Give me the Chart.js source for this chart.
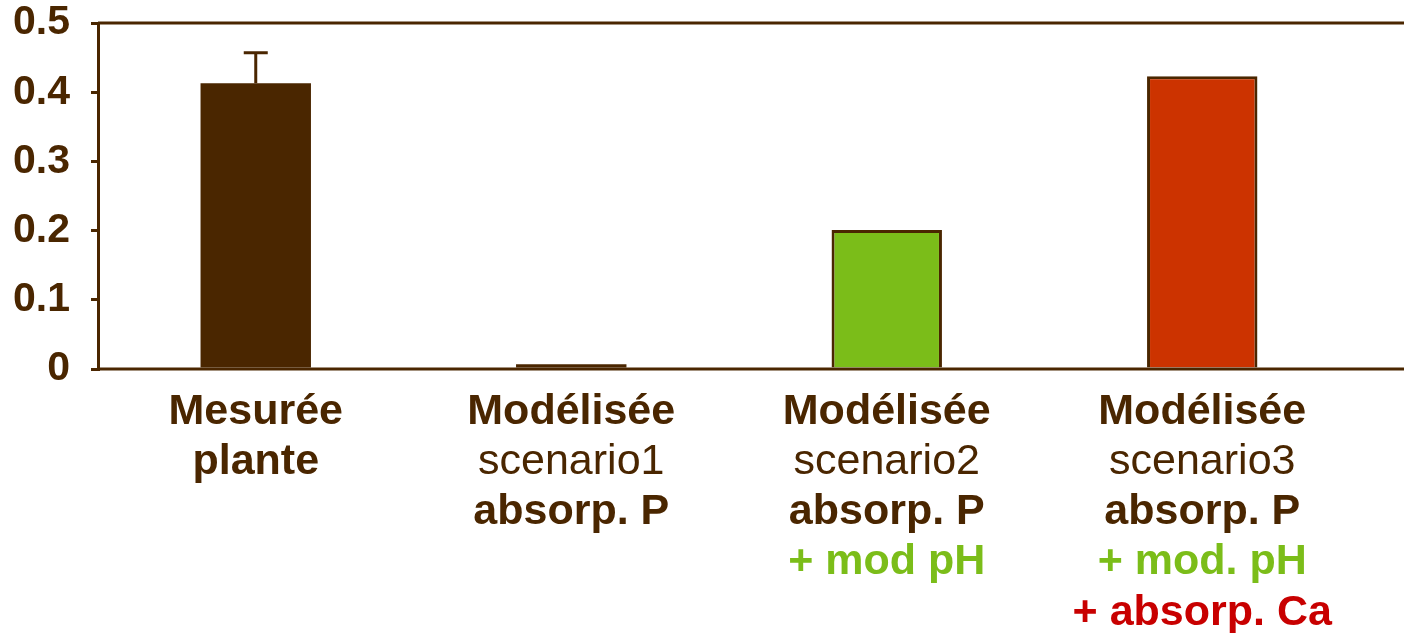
<!DOCTYPE html>
<html>
<head>
<meta charset="utf-8">
<script src="https://cdn.jsdelivr.net/npm/chart.js@4"></script>
<style>
  html, body { margin: 0; padding: 0; background: #fff; }
  #wrap { width: 1404px; height: 633px; }
</style>
</head>
<body>
<div id="wrap"><canvas id="chart" width="1404" height="633"></canvas></div>
<script>
// Data
const categories = ['Mesurée plante', 'Modélisée scenario1', 'Modélisée scenario2', 'Modélisée scenario3'];
const values = [0.413, 0.007, 0.201, 0.423];
const errorsUp = [0.044, 0, 0, 0];
const yTickLabels = ['0', '0.1', '0.2', '0.3', '0.4', '0.5'];
const xLabelLines = [
    ['Mesurée', 'plante'],
    ['Modélisée', 'scenario1', 'absorp. P'],
    ['Modélisée', 'scenario2', 'absorp. P', '+ mod pH'],
    ['Modélisée', 'scenario3', 'absorp. P', '+ mod. pH', '+ absorp. Ca']
];

const BROWN = '#4a2600';
const GREEN = '#7bbd19';
const RED = '#c80000';
const FONT = "'Liberation Sans', Arial, sans-serif";

// style of a label line, picked from its text
function lineStyle(text) {
    if (text.startsWith('scenario')) return { weight: 'normal', color: BROWN };
    if (text.indexOf('pH') >= 0) return { weight: 'bold', color: GREEN };
    if (text.indexOf('Ca') >= 0) return { weight: 'bold', color: RED };
    return { weight: 'bold', color: BROWN };
}

const extrasPlugin = {
    id: 'extras',
    afterDatasetsDraw(chart) {
        const ctx = chart.ctx;
        const x = chart.scales.x, y = chart.scales.y;
        const area = chart.chartArea;
        ctx.save();
        ctx.strokeStyle = BROWN;
        ctx.lineWidth = 3;
        // frame top and baseline, running to the right edge
        [0.5, 0].forEach(v => {
            const py = y.getPixelForValue(v);
            ctx.beginPath();
            ctx.moveTo(area.left, py);
            ctx.lineTo(chart.width, py);
            ctx.stroke();
        });
        // error bars (upper only)
        const meta = chart.getDatasetMeta(0);
        errorsUp.forEach((e, i) => {
            if (!e) return;
            const bar = meta.data[i];
            const top = y.getPixelForValue(values[i] + e);
            ctx.beginPath();
            ctx.moveTo(bar.x, bar.y);
            ctx.lineTo(bar.x, top);
            ctx.moveTo(bar.x - 12, top);
            ctx.lineTo(bar.x + 12, top);
            ctx.stroke();
        });
        // category labels
        ctx.textAlign = 'center';
        ctx.textBaseline = 'middle';
        xLabelLines.forEach((lines, i) => {
            const cx = x.getPixelForValue(i);
            lines.forEach((t, j) => {
                const s = lineStyle(t);
                ctx.font = s.weight + ' 43px ' + FONT;
                ctx.fillStyle = s.color;
                ctx.fillText(t, cx, 412 + j * 50.2);
            });
        });
        ctx.restore();
    }
};

new Chart(document.getElementById('chart'), {
    type: 'bar',
    data: {
        labels: categories,
        datasets: [{
            data: values,
            backgroundColor: [BROWN, BROWN, GREEN, '#cc3300'],
            borderColor: BROWN,
            borderWidth: [0, 0, 3, 3],
            barPercentage: 0.35,
            categoryPercentage: 1
        }]
    },
    options: {
        responsive: false,
        animation: false,
        layout: { padding: { top: 23, right: 44, left: 0, bottom: 0 } },
        plugins: {
            legend: { display: false },
            tooltip: { enabled: false }
        },
        scales: {
            x: {
                grid: { display: false },
                border: { display: false },
                ticks: { display: false },
                afterFit(scale) { scale.height = 264; }
            },
            y: {
                min: 0,
                max: 0.5,
                afterFit(scale) {
                    scale.width = 98;
                    scale.paddingTop = 0;
                    scale.paddingBottom = 0;
                },
                ticks: {
                    stepSize: 0.1,
                    padding: 21,
                    color: BROWN,
                    font: { family: FONT, size: 41, weight: 'bold', lineHeight: 1.1 },
                    callback: (v, i) => yTickLabels[i]
                },
                grid: {
                    drawOnChartArea: false,
                    drawTicks: true,
                    tickLength: 7,
                    color: BROWN,
                    lineWidth: 3
                },
                border: { display: true, color: BROWN, width: 3 }
            }
        }
    },
    plugins: [extrasPlugin]
});
</script>
</body>
</html>
